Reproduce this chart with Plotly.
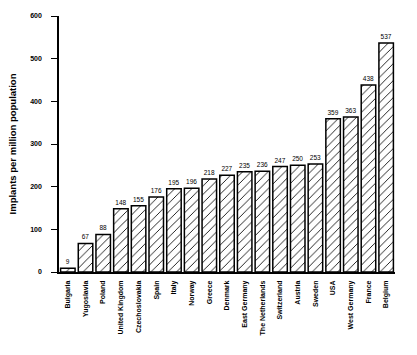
import plotly.graph_objects as go

countries = ["Bulgaria", "Yugoslavia", "Poland", "United Kingdom", "Czechoslovakia",
             "Spain", "Italy", "Norway", "Greece", "Denmark", "East Germany",
             "The Netherlands", "Switzerland", "Austria", "Sweden", "USA",
             "West Germany", "France", "Belgium"]
values = [9, 67, 88, 148, 155, 176, 195, 196, 218, 227, 235, 236, 247, 250, 253,
          359, 363, 438, 537]
y_ticks = [0, 100, 200, 300, 400, 500, 600]

FONT = "Liberation Sans"

fig = go.Figure(go.Bar(
    x=countries, y=values,
    text=[str(v) for v in values], textposition="outside",
    textfont=dict(family=FONT, size=6.5, color="black"),
    outsidetextfont=dict(family=FONT, size=6.5, color="black"),
    cliponaxis=False,
    marker=dict(color="white",
                line=dict(color="black", width=1.5),
                pattern=dict(shape="/", fgcolor="black", bgcolor="white", fgopacity=1,
                             size=6, solidity=0.14, fillmode="replace")),
))

fig.update_layout(
    width=417, height=355,
    margin=dict(l=59, r=22, t=16, b=83),
    paper_bgcolor="white", plot_bgcolor="white",
    bargap=0.18, showlegend=False,
    font=dict(family=FONT, color="black"),
)
fig.update_xaxes(
    range=[-0.5, 18.5], tickangle=-90, showline=True, linecolor="black", linewidth=1.5,
    ticks="", tickfont=dict(family=FONT, size=7, weight="bold", color="black"),
    showgrid=False, ticklabelstandoff=4,
)
fig.update_yaxes(
    range=[0, 600], tickvals=y_ticks, showline=True, linecolor="black", linewidth=1.5,
    ticks="outside", ticklen=6, tickwidth=1.2, tickcolor="black",
    tickfont=dict(family=FONT, size=7, weight="bold", color="black"), ticklabelstandoff=8,
    showgrid=False, zeroline=False,
    title=dict(text="Implants per million population",
               font=dict(family=FONT, size=9.5, weight="bold", color="black"), standoff=12),
)

fig.write_html("out.html")
